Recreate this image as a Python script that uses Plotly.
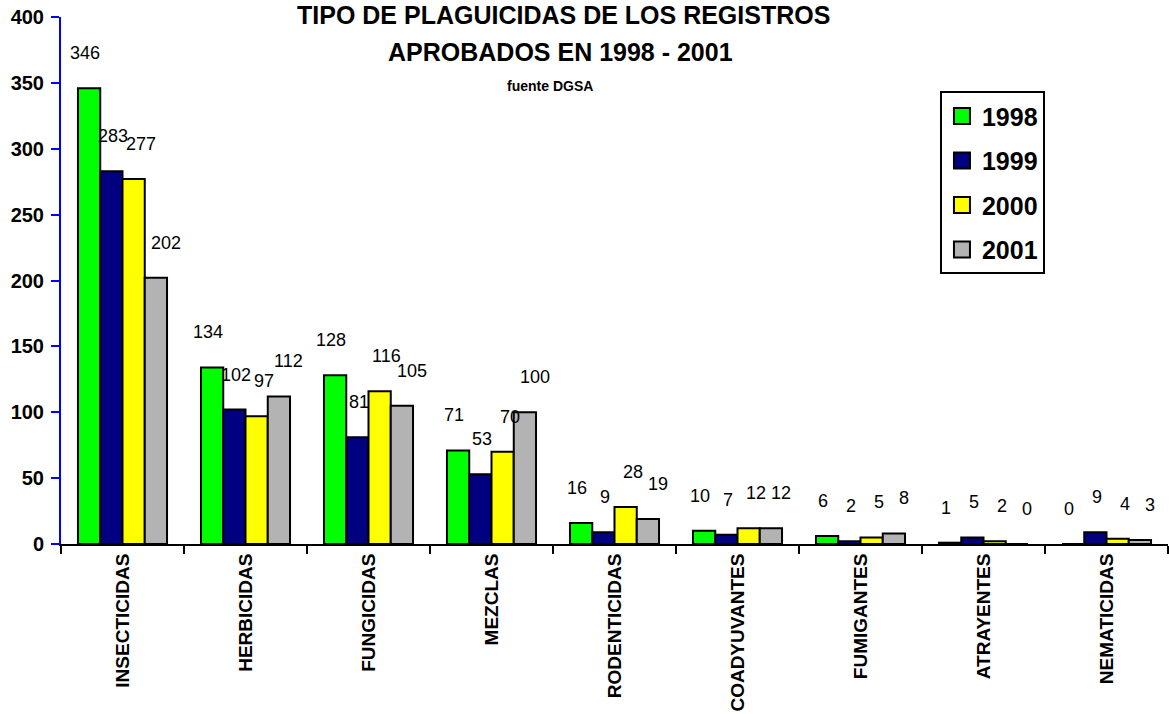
import plotly.graph_objects as go

categories = ["INSECTICIDAS", "HERBICIDAS", "FUNGICIDAS", "MEZCLAS", "RODENTICIDAS",
              "COADYUVANTES", "FUMIGANTES", "ATRAYENTES", "NEMATICIDAS"]
years = ["1998", "1999", "2000", "2001"]
v1998 = [346, 134, 128, 71, 16, 10, 6, 1, 0]
v1999 = [283, 102, 81, 53, 9, 7, 2, 5, 9]
v2000 = [277, 97, 116, 70, 28, 12, 5, 2, 4]
v2001 = [202, 112, 105, 100, 19, 12, 8, 0, 3]
series = [v1998, v1999, v2000, v2001]
colors = ["#00FF00", "#000080", "#FFFF00", "#B3B3B3"]
yticks = [0, 50, 100, 150, 200, 250, 300, 350, 400]

bargap = 0.276
label_xshift = [-4, 2, 7, 10]
label_yshift = 35

fig = go.Figure()
for name, vals, col in zip(years, series, colors):
    fig.add_trace(go.Bar(x=categories, y=vals, name=name, marker_color=col,
                         marker_line=dict(color="black", width=2), showlegend=False))
for name, col in zip(years, colors):
    fig.add_trace(go.Scatter(x=[None], y=[None], mode="markers", name=name,
                             marker=dict(symbol="square", size=18, color=col,
                                         line=dict(color="black", width=2)),
                             legendgroup=name))

bw = (1 - bargap) / 4
ann = []
for i, vals in enumerate(series):
    for j, v in enumerate(vals):
        ann.append(dict(x=j + (i - 1.5) * bw, y=v, xref="x", yref="y", text=str(v),
                        showarrow=False, xshift=label_xshift[i], yshift=label_yshift,
                        yanchor="middle", xanchor="center",
                        font=dict(family="Liberation Sans, Arial", size=18, color="black")))

title_font = dict(family="Liberation Sans, Arial", color="black")
ann.append(dict(x=0.4535, y=1.0038, xref="paper", yref="paper", showarrow=False,
                text="<b>TIPO DE PLAGUICIDAS DE LOS REGISTROS</b>", yanchor="middle",
                font=dict(size=25, **title_font)))
ann.append(dict(x=0.4508, y=0.9336, xref="paper", yref="paper", showarrow=False,
                text="<b>APROBADOS EN 1998 - 2001</b>", yanchor="middle",
                font=dict(size=25, **title_font)))
ann.append(dict(x=0.4417, y=0.869, xref="paper", yref="paper", showarrow=False,
                text="<b>fuente DGSA</b>", yanchor="middle",
                font=dict(size=14, **title_font)))

fig.update_layout(
    width=1169, height=714,
    margin=dict(l=61, r=1, t=17, b=170),
    paper_bgcolor="white", plot_bgcolor="white",
    barmode="group", bargap=bargap, bargroupgap=0,
    annotations=ann,
    legend=dict(x=0.794, y=0.859, xanchor="left", yanchor="top",
                bordercolor="black", borderwidth=2, bgcolor="white",
                font=dict(family="Liberation Sans, Arial", size=25, color="black", weight="bold"),
                tracegroupgap=9),
    xaxis=dict(type="category", range=[-0.5, 8.5], showline=True, linecolor="black", linewidth=2,
               ticks="outside", ticklen=8, tickwidth=2, tickcolor="black", tickson="boundaries",
               tickangle=-90, showgrid=False, zeroline=False, automargin=False,
               tickfont=dict(family="Liberation Sans, Arial", size=19, color="black", weight="bold")),
    yaxis=dict(range=[0, 400], tickvals=yticks, showline=True, linecolor="#0000FF", linewidth=2,
               ticks="outside", ticklen=8, tickwidth=2, tickcolor="#0000FF",
               showgrid=False, zeroline=False, automargin=False, ticklabelstandoff=3,
               tickfont=dict(family="Liberation Sans, Arial", size=20, color="black", weight="bold")),
)
fig.write_html("out.html", config={"displayModeBar": False},
               post_script="document.body.style.margin='0';")
